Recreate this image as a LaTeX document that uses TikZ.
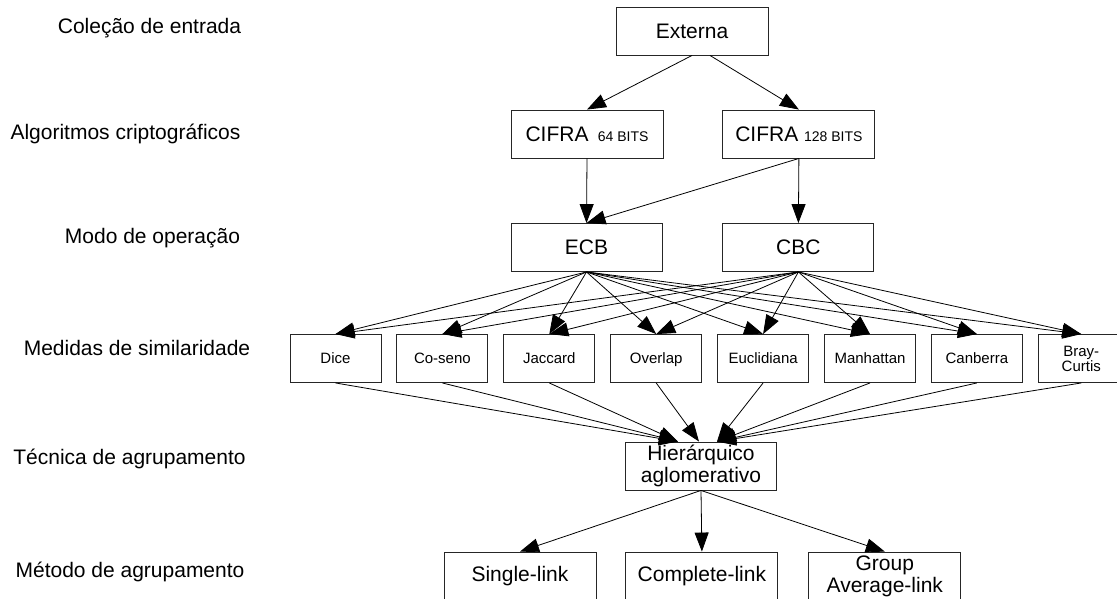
\documentclass[tikz,border=0pt]{standalone}
\usepackage{fontspec}
\setmainfont{Liberation Sans}
\usetikzlibrary{arrows.meta, positioning}

\newcommand{\bitsfont}{\fontsize{14}{16}\selectfont}

\begin{document}
\begin{tikzpicture}[
    x=1pt, y=-1pt,
    box/.style={rectangle, draw=black!85, line width=0.9pt, minimum width=152pt, minimum height=48pt, inner sep=1pt, align=center},
    measure/.style={box, minimum width=91pt, font=\fontsize{15}{18}\selectfont},
    arrow/.style={-{Triangle[length=19pt, width=14pt]}, line width=0.8pt},
    node distance=15pt,
    every node/.append style={font=\fontsize{21}{24}\selectfont}
]
    \useasboundingbox (0,0) rectangle (1117,598);

    % Layer names
    \node (lcol)  at (149.5,28) {Coleção de entrada};
    \node (lalg)  at (125.5,134) {Algoritmos criptográficos};
    \node (lmodo) at (152.5,238) {Modo de operação};
    \node (lmed)  at (137,348) {Medidas de similaridade};
    \node (ltec)  at (129.5,459) {Técnica de agrupamento};
    \node (lmet)  at (130,572) {Método de agrupamento};

    % Input and ciphers
    \node[box] (ext) at (692,31) {Externa};
    \node[box] (c64) at (587,134) {CIFRA\, {\bitsfont 64 BITS}};
    \node[box, right=59pt of c64] (c128) {CIFRA {\bitsfont 128 BITS}};

    % Modes
    \node[box, minimum width=151pt] (ecb) at (586.5,247.5) {ECB};
    \node[box, minimum width=151pt, right=60pt of ecb] (cbc) {CBC};

    % Similarity measures
    \node[measure] (dice) at (335.5,358.5) {Dice};
    \node[measure, right=of dice]    (coseno)  {Co-seno};
    \node[measure, right=of coseno]  (jaccard) {Jaccard};
    \node[measure, right=of jaccard, text depth=0pt] (overlap) {Overlap};
    \node[measure, right=of overlap] (eucl)    {Euclidiana};
    \node[measure, right=of eucl]    (manh)    {Manhattan};
    \node[measure, right=of manh]    (canb)    {Canberra};
    \node[measure, right=of canb, minimum width=86pt] (bray) {Bray-\\[-3pt]Curtis};

    % Clustering
    \node[box, minimum width=151pt] (hier) at (701,466) {Hierárquico\\[-2pt]aglomerativo};
    \node[box] (single) at (520,576) {Single-link};
    \node[box, right=29pt of single]   (complete) {Complete-link};
    \node[box, right=30pt of complete] (group)    {Group\\[-2pt]Average-link};

    % Connections
    \draw[arrow] (ext.south) -- (c64.north);
    \draw[arrow] ([xshift=18pt]ext.south) -- (c128.north);
    \draw[arrow] (c64.south) -- (ecb.north);
    \draw[arrow] (c128.south) -- (cbc.north);
    \draw[arrow] (c128.south) -- (ecb.north);

    \foreach \m in {dice,coseno,jaccard,overlap,eucl,manh,canb,bray} {
        \draw[arrow] (ecb.south) -- (\m.north);
        \draw[arrow] (cbc.south) -- (\m.north);
    }

    \foreach \m/\dx in {dice/-23,coseno/-23,jaccard/-23,overlap/-2,eucl/16,manh/16,canb/16,bray/16}
        \draw[arrow] (\m.south) -- ([xshift=\dx pt]hier.north);

    \foreach \m in {single,complete,group}
        \draw[arrow] (hier.south) -- (\m.north);

\end{tikzpicture}
\end{document}
